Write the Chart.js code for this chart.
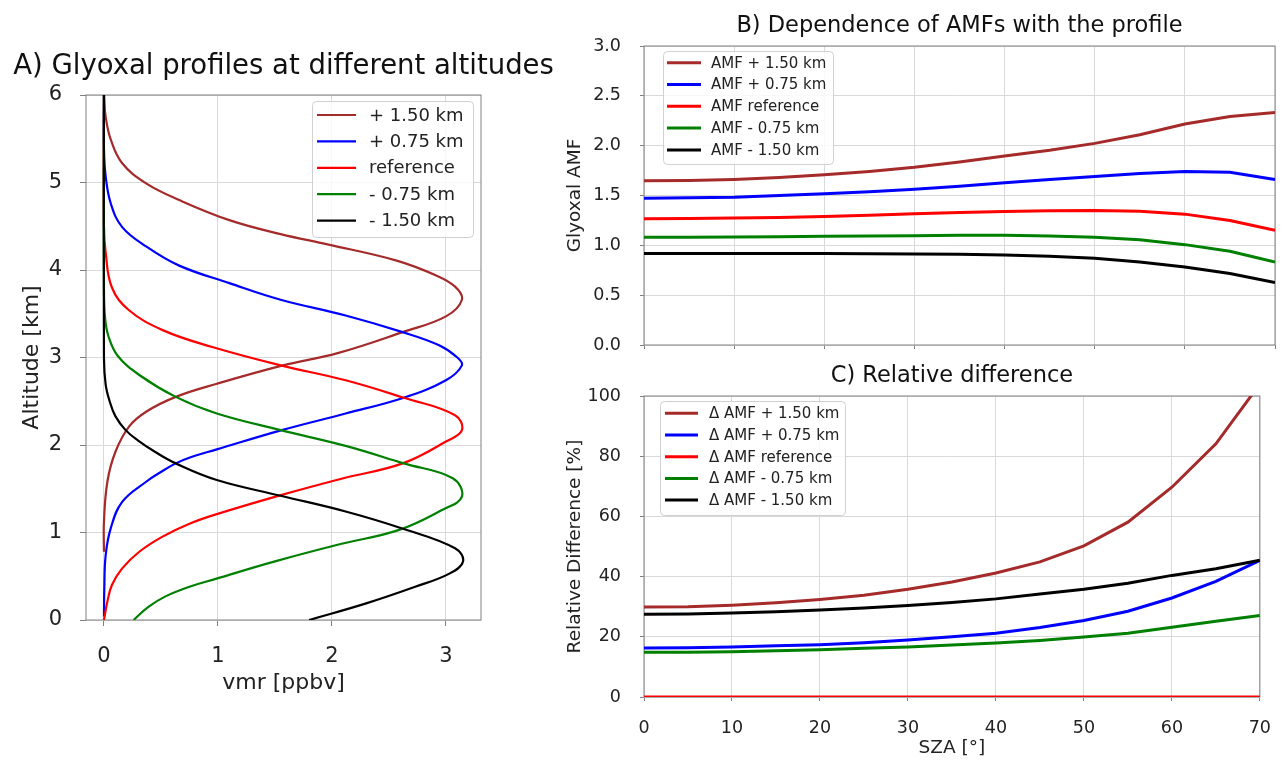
<!DOCTYPE html>
<html>
<head>
<meta charset="utf-8">
<script src="https://cdn.jsdelivr.net/npm/chart.js@4"></script>
<style>
body{margin:0;background:#fff}
#wrap{position:relative;width:1288px;height:760px}
canvas{position:absolute;left:0;top:0}
</style>
</head>
<body>
<div id="wrap">
<canvas id="chartA" width="1288" height="760"></canvas>
<canvas id="chartB" width="1288" height="760"></canvas>
<canvas id="chartC" width="1288" height="760"></canvas>
</div>
<script>

//------------------------------------------------------------------
// A) profiles : altitude [km] / vmr [ppbv]

const altP150 = [0.78,1.12,1.58,1.92,2.21,2.38,2.55,2.70,2.91,3.05,3.29,3.47,3.66,3.81,3.94,4.11,4.29,4.41,4.57,4.80,4.99,5.22,5.49,5.75,6.0];
const vmrP150 = [0,0,0.03,0.10,0.22,0.37,0.63,0.99,1.57,2.05,2.62,3.00,3.14,3.08,2.91,2.56,1.97,1.55,1.10,0.66,0.37,0.16,0.06,0.015,0];

const altP075 = [0.04,0.36,0.74,1.05,1.35,1.58,1.70,1.79,1.86,1.95,2.17,2.36,2.54,2.74,2.91,3.00,3.14,3.29,3.48,3.66,3.85,4.05,4.27,4.49,4.76,5.07,5.40,6.0];
const vmrP075 = [0,0.003,0.015,0.06,0.16,0.37,0.51,0.63,0.76,0.99,1.56,2.12,2.63,3.00,3.14,3.10,2.94,2.62,2.12,1.55,1.10,0.66,0.37,0.16,0.06,0.015,0,0];

const altRef = [0,0.21,0.40,0.59,0.78,0.95,1.10,1.21,1.43,1.62,1.79,2.04,2.17,2.34,2.54,2.74,2.91,3.12,3.31,3.54,3.80,4.20,4.50,6.0];
const vmrRef = [0,0.03,0.07,0.16,0.31,0.51,0.75,0.99,1.56,2.10,2.62,3.00,3.14,3.08,2.63,2.12,1.55,0.95,0.52,0.22,0.07,0.015,0,0];

const altM075 = [0,0.15,0.27,0.38,0.47,0.67,0.86,1.03,1.26,1.41,1.62,1.79,1.99,2.17,2.36,2.55,2.80,3.02,3.24,3.45,3.80,6.0];
const vmrM075 = [0.26,0.39,0.54,0.75,0.98,1.50,2.05,2.59,2.97,3.14,3.06,2.63,2.12,1.55,0.99,0.63,0.31,0.12,0.04,0.01,0,0];

const altM150 = [0,0.19,0.38,0.53,0.67,0.82,1.04,1.24,1.42,1.60,1.79,1.92,2.05,2.17,2.33,2.50,2.69,3.00,6.0];
const vmrM150 = [1.80,2.30,2.73,3.03,3.15,3.08,2.63,2.12,1.55,0.99,0.63,0.45,0.30,0.19,0.10,0.05,0.015,0,0];

const profLabels = ['+ 1.50 km', '+ 0.75 km', 'reference', '- 0.75 km', '- 1.50 km'];
const vmrTicks = [0, 1, 2, 3];
const altTicks = [0, 1, 2, 3, 4, 5, 6];

// B) and C) : SZA [deg]
const sza = [0,5,10,15,20,25,30,35,40,45,50,55,60,65,70];

const amfP150 = [1.647,1.650,1.660,1.680,1.707,1.740,1.783,1.837,1.897,1.953,2.023,2.110,2.217,2.293,2.333];
const amfP075 = [1.473,1.477,1.483,1.500,1.517,1.537,1.563,1.593,1.627,1.660,1.690,1.720,1.740,1.733,1.660];
const amfRef  = [1.267,1.270,1.273,1.280,1.290,1.303,1.317,1.330,1.340,1.347,1.350,1.343,1.313,1.250,1.150];
const amfM075 = [1.080,1.080,1.083,1.085,1.090,1.093,1.097,1.100,1.100,1.093,1.080,1.057,1.007,0.940,0.833];
const amfM150 = [0.917,0.917,0.917,0.917,0.917,0.915,0.913,0.910,0.903,0.890,0.870,0.833,0.783,0.717,0.627];
const amfLabels = ['AMF + 1.50 km', 'AMF + 0.75 km', 'AMF reference', 'AMF - 0.75 km', 'AMF - 1.50 km'];

const relP150 = [29.9,30.0,30.5,31.3,32.4,33.8,35.8,38.2,41.2,44.9,50.2,58.1,69.7,84.1,104];
const relP075 = [16.3,16.4,16.6,17.0,17.4,18.0,18.9,20.0,21.2,23.1,25.4,28.5,32.9,38.4,45.4];
const relRef  = [0,0,0,0,0,0,0,0,0,0,0,0,0,0,0];
const relM075 = [14.9,14.9,15.0,15.4,15.7,16.2,16.6,17.3,17.9,18.8,19.9,21.2,23.2,25.2,27.1];
const relM150 = [27.5,27.6,27.9,28.3,28.9,29.6,30.4,31.4,32.6,34.2,35.8,37.8,40.4,42.6,45.4];
const relLabels = ['\u0394 AMF + 1.50 km', '\u0394 AMF + 0.75 km', '\u0394 AMF reference', '\u0394 AMF - 0.75 km', '\u0394 AMF - 1.50 km'];

const colors = ['#a52a2a', '#0000ff', '#ff0000', '#008000', '#000000'];

//------------------------------------------------------------------

Chart.defaults.font.family = 'DejaVu Sans';
Chart.defaults.color = '#222';

const GRID = '#d9d9d9';
const FRAME = '#808080';

// frame (4 spines), title and matplotlib-like legend box
const panel = {
    id: 'panel',
    beforeDatasetsDraw(chart, args, o){
        const {ctx, chartArea: a} = chart;
        ctx.save();
        ctx.strokeStyle = FRAME;
        ctx.lineWidth = 1;
        ctx.strokeRect(a.left, a.top, a.right - a.left, a.bottom - a.top);
        ctx.restore();
    },
    afterDraw(chart, args, o){
        const {ctx, chartArea: a} = chart;
        ctx.save();
        ctx.fillStyle = '#111';
        ctx.font = o.titleFont;
        ctx.textAlign = 'center';
        ctx.textBaseline = 'alphabetic';
        ctx.fillText(o.title, (a.left + a.right) / 2, o.titleY);

        const g = o.legend;
        ctx.beginPath();
        ctx.roundRect(g.x + 0.5, g.y + 0.5, g.w, g.h, 4);
        ctx.fillStyle = 'rgba(255,255,255,0.8)';
        ctx.fill();
        ctx.strokeStyle = '#d0d0d0';
        ctx.lineWidth = 1;
        ctx.stroke();

        ctx.font = g.font;
        ctx.textAlign = 'left';
        ctx.textBaseline = 'middle';
        chart.data.datasets.forEach((ds, i) => {
            const yy = g.row0 + i * g.rowH;
            ctx.beginPath();
            ctx.moveTo(g.lx, yy);
            ctx.lineTo(g.lx + g.len, yy);
            ctx.strokeStyle = ds.borderColor;
            ctx.lineWidth = g.lw;
            ctx.stroke();
            ctx.fillStyle = '#222';
            ctx.fillText(ds.label, g.tx, yy + 1);
        });
        ctx.restore();
    }
};

function pts(xs, ys){
    return xs.map((x, i) => ({x: x, y: ys[i]}));
}

function lineSet(label, data, i, width){
    return {
        label: label,
        data: data,
        showLine: true,
        borderColor: colors[i],
        backgroundColor: colors[i],
        borderWidth: width,
        pointRadius: 0,
        order: 4 - i,
        fill: false
    };
}

//------------------------------------------------------------------
// A

const profVmr = [vmrP150, vmrP075, vmrRef, vmrM075, vmrM150];
const profAlt = [altP150, altP075, altRef, altM075, altM150];

new Chart(document.getElementById('chartA'), {
    type: 'scatter',
    data: {
        datasets: profLabels.map((lab, i) => {
            const d = lineSet(lab, pts(profVmr[i], profAlt[i]), i, 2.2);
            d.tension = 0.4;
            return d;
        })
    },
    options: {
        responsive: false,
        animation: false,
        devicePixelRatio: 1,
        layout: {padding: {left: 19, top: 95, right: 807, bottom: 64}},
        plugins: {
            legend: {display: false},
            tooltip: {enabled: false},
            panel: {
                title: 'A) Glyoxal profiles at different altitudes',
                titleFont: '27.5px "DejaVu Sans"',
                titleY: 74,
                legend: {x: 312, y: 101, w: 161, h: 136, row0: 115, rowH: 26.4,
                         lx: 317, len: 39, tx: 369, font: '18px "DejaVu Sans"', lw: 2.2}
            }
        },
        scales: {
            x: {
                type: 'linear', min: -0.1575, max: 3.3075,
                afterBuildTicks: s => { s.ticks = vmrTicks.map(v => ({value: v})); },
                afterFit: s => { s.height = 76; },
                grid: {color: GRID, tickColor: FRAME, tickLength: 6},
                border: {display: false},
                ticks: {font: {size: 21}, padding: 18, maxRotation: 0},
                title: {display: true, text: 'vmr [ppbv]', font: {size: 22}, padding: 0}
            },
            y: {
                type: 'linear', min: 0, max: 6,
                afterBuildTicks: s => { s.ticks = altTicks.map(v => ({value: v})); },
                afterFit: s => { s.width = 67; },
                grid: {color: GRID, tickColor: FRAME, tickLength: 6},
                border: {display: false},
                ticks: {font: {size: 21}, padding: 18},
                title: {display: true, text: 'Altitude [km]', font: {size: 22}, padding: 0}
            }
        }
    },
    plugins: [panel]
});

//------------------------------------------------------------------
// B

const amfSeries = [amfP150, amfP075, amfRef, amfM075, amfM150];

new Chart(document.getElementById('chartB'), {
    type: 'scatter',
    data: {
        datasets: amfLabels.map((lab, i) => lineSet(lab, pts(sza, amfSeries[i]), i, 3))
    },
    options: {
        responsive: false,
        animation: false,
        devicePixelRatio: 1,
        layout: {padding: {left: 564, top: 46, right: 13, bottom: 405}},
        plugins: {
            legend: {display: false},
            tooltip: {enabled: false},
            panel: {
                title: 'B) Dependence of AMFs with the profile',
                titleFont: '22.5px "DejaVu Sans"',
                titleY: 32,
                legend: {x: 663, y: 51, w: 170, h: 113, row0: 62.7, rowH: 21.8,
                         lx: 667, len: 34, tx: 711, font: '15px "DejaVu Sans"', lw: 3}
            }
        },
        scales: {
            x: {
                type: 'linear', min: 0, max: 70,
                ticks: {stepSize: 10, display: false},
                afterFit: s => { s.height = 10; },
                grid: {color: GRID, tickColor: FRAME, tickLength: 4},
                border: {display: false}
            },
            y: {
                type: 'linear', min: 0, max: 3,
                ticks: {stepSize: 0.5, font: {size: 17.5}, padding: 19, callback: v => v.toFixed(1)},
                afterFit: s => { s.width = 80; },
                grid: {color: GRID, tickColor: FRAME, tickLength: 4},
                border: {display: false},
                title: {display: true, text: 'Glyoxal AMF', font: {size: 18.5}, padding: 0}
            }
        }
    },
    plugins: [panel]
});

//------------------------------------------------------------------
// C

const relSeries = [relP150, relP075, relRef, relM075, relM150];

new Chart(document.getElementById('chartC'), {
    type: 'scatter',
    data: {
        datasets: relLabels.map((lab, i) => lineSet(lab, pts(sza, relSeries[i]), i, 3))
    },
    options: {
        responsive: false,
        animation: false,
        devicePixelRatio: 1,
        layout: {padding: {left: 564, top: 396, right: 13, bottom: 1}},
        plugins: {
            legend: {display: false},
            tooltip: {enabled: false},
            panel: {
                title: 'C) Relative difference',
                titleFont: '22.5px "DejaVu Sans"',
                titleY: 382,
                legend: {x: 660, y: 401, w: 185, h: 114, row0: 413.3, rowH: 21.7,
                         lx: 665, len: 33, tx: 709, font: '15px "DejaVu Sans"', lw: 3}
            }
        },
        scales: {
            x: {
                type: 'linear', min: 0, max: 70,
                ticks: {stepSize: 10, font: {size: 17.5}, padding: 17, maxRotation: 0},
                afterFit: s => { s.height = 62; },
                grid: {color: GRID, tickColor: FRAME, tickLength: 4},
                border: {display: false},
                title: {display: true, text: 'SZA [\u00b0]', font: {size: 18.5}, padding: 0}
            },
            y: {
                type: 'linear', min: 0, max: 100,
                ticks: {stepSize: 20, font: {size: 17.5}, padding: 19},
                afterFit: s => { s.width = 80; },
                grid: {color: GRID, tickColor: FRAME, tickLength: 4},
                border: {display: false},
                title: {display: true, text: 'Relative Difference [%]', font: {size: 18.5}, padding: 0}
            }
        }
    },
    plugins: [panel]
});

</script>
</body>
</html>
